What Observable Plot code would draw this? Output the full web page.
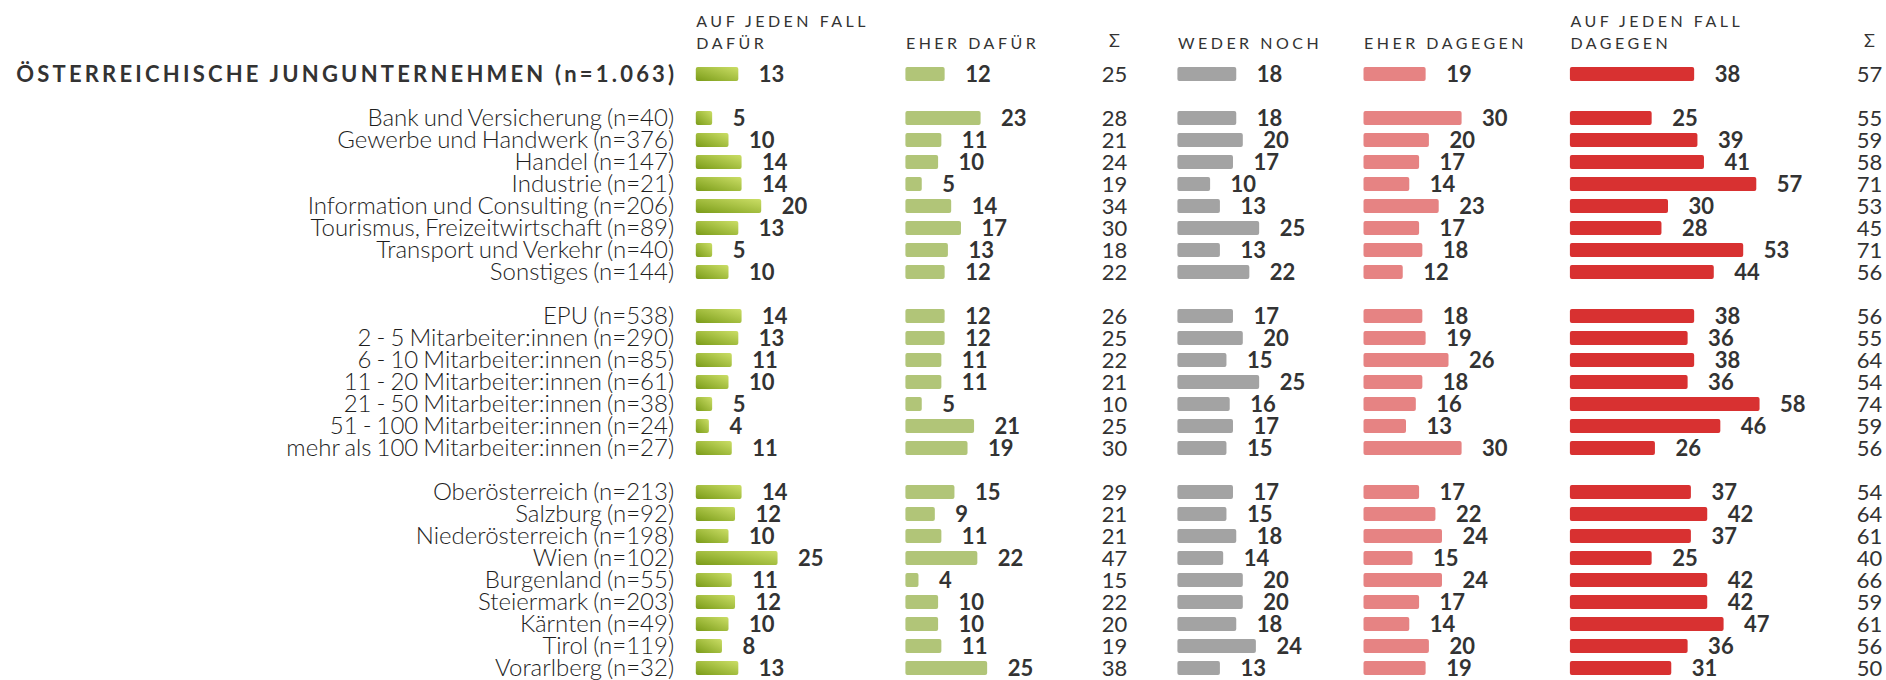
<!DOCTYPE html>
<html>
<head>
<meta charset="utf-8">
<script src="https://cdn.jsdelivr.net/npm/d3@7"></script>
<script src="https://cdn.jsdelivr.net/npm/@observablehq/plot@0.6"></script>
<style>
  html, body { margin: 0; padding: 0; background: #fff; overflow: hidden; }
</style>
</head>
<body>
<div id="chart"></div>
<script>
// ---------- data ----------
const totalLabel = "ÖSTERREICHISCHE JUNGUNTERNEHMEN (n=1.063)";
const sectors = [
  "Bank und Versicherung (n=40)",
  "Gewerbe und Handwerk (n=376)",
  "Handel (n=147)",
  "Industrie (n=21)",
  "Information und Consulting (n=206)",
  "Tourismus, Freizeitwirtschaft (n=89)",
  "Transport und Verkehr (n=40)",
  "Sonstiges (n=144)"
];
const sizes = [
  "EPU (n=538)",
  "2 - 5 Mitarbeiter:innen (n=290)",
  "6 - 10 Mitarbeiter:innen (n=85)",
  "11 - 20 Mitarbeiter:innen (n=61)",
  "21 - 50 Mitarbeiter:innen (n=38)",
  "51 - 100 Mitarbeiter:innen (n=24)",
  "mehr als 100 Mitarbeiter:innen (n=27)"
];
const regions = [
  "Oberösterreich (n=213)",
  "Salzburg (n=92)",
  "Niederösterreich (n=198)",
  "Wien (n=102)",
  "Burgenland (n=55)",
  "Steiermark (n=203)",
  "Kärnten (n=49)",
  "Tirol (n=119)",
  "Vorarlberg (n=32)"
];
const columnHeaders = ["AUF JEDEN FALL\nDAFÜR", "EHER DAFÜR", "WEDER NOCH", "EHER DAGEGEN", "AUF JEDEN FALL\nDAGEGEN"];
const sumHeader = "Σ";

// values in row order: total, sectors, sizes, regions
const aufJedenFallDafuer = [13, 5,10,14,14,20,13,5,10, 14,13,11,10,5,4,11, 14,12,10,25,11,12,10,8,13];
const eherDafuer         = [12, 23,11,10,5,14,17,13,12, 12,12,11,11,5,21,19, 15,9,11,22,4,10,10,11,25];
const summeDafuer        = [25, 28,21,24,19,34,30,18,22, 26,25,22,21,10,25,30, 29,21,21,47,15,22,20,19,38];
const wederNoch          = [18, 18,20,17,10,13,25,13,22, 17,20,15,25,16,17,15, 17,15,18,14,20,20,18,24,13];
const eherDagegen        = [19, 30,20,17,14,23,17,18,12, 18,19,26,18,16,13,30, 17,22,24,15,24,17,14,20,19];
const aufJedenFallDagegen= [38, 25,39,41,57,30,28,53,44, 38,36,38,36,58,46,26, 37,42,37,25,42,42,47,36,31];
const summeDagegen       = [57, 55,59,58,71,53,45,71,56, 56,55,64,54,74,59,56, 54,64,61,40,66,59,61,56,50];

// ---------- layout ----------
const W = 1886, H = 680;
const K = 3.27;                       // pixels per percentage point
const u = px => px / K;               // pixel layout -> x-scale units
const colStart = [695.8, 905.4, 1177.4, 1363.5, 1569.9].map(u);
const sumCenter = [1114, 1869].map(u);
const labelRight = u(673.6);
const titleSpacing = 3.2, headerSpacing = 3.5;
const rowStep = 22.1, firstRow = 72.2;
const colors = ["url(#gDafuer)", "#b1c578", "#a3a3a3", "#e68383", "#d83131"];

const rows = [totalLabel, ...sectors, ...sizes, ...regions];
const yDomain = [totalLabel, "gap1", ...sectors, "gap2", ...sizes, "gap3", ...regions];

const series = [aufJedenFallDafuer, eherDafuer, wederNoch, eherDagegen, aufJedenFallDagegen];
const barData = series.map((vals, c) =>
  vals.map((v, i) => ({row: rows[i], v, x1: colStart[c], x2: colStart[c] + v})));

const sumData = [summeDafuer, summeDagegen].flatMap((vals, s) =>
  vals.map((v, i) => ({row: rows[i], v, x: sumCenter[s]})));

const headerData = columnHeaders.map((t, c) => ({text: t, x: colStart[c]}));
const sumHeaderData = sumCenter.map(x => ({text: sumHeader, x}));

const textColor = "#333333";

const marks = [];
barData.forEach((d, c) => {
  marks.push(Plot.barX(d, {x1: "x1", x2: "x2", y: "row", fill: colors[c], rx: 2}));
  marks.push(Plot.text(d, {x: "x2", y: "row", text: "v", dx: 20, textAnchor: "start",
    fontSize: 22, fontWeight: 700, fill: textColor}));
});
marks.push(Plot.text(sumData, {x: "x", y: "row", text: "v", textAnchor: "middle",
  fontSize: 22, fill: textColor}));
marks.push(Plot.text([...sectors, ...sizes, ...regions], {x: labelRight, y: d => d, text: d => d,
  textAnchor: "end", fontSize: 24, fontWeight: 300, fill: "#1e1e1e"}));
marks.push(Plot.text([totalLabel], {x: labelRight + u(titleSpacing), y: d => d, text: d => d,
  textAnchor: "end", fontSize: 22, fontWeight: 700, fill: textColor}));
marks.push(Plot.text(headerData, {x: "x", text: "text", frameAnchor: "top", dy: 48.3,
  lineAnchor: "bottom", lineHeight: 1.35, textAnchor: "start", fontSize: 16,
  fill: textColor}));
marks.push(Plot.text(sumHeaderData, {x: "x", text: "text", frameAnchor: "top", dy: 46,
  lineAnchor: "bottom", textAnchor: "middle", fontSize: 18, fill: textColor}));

const svg = Plot.plot({
  width: W,
  height: H,
  marginLeft: 0, marginRight: 0, marginTop: 0, marginBottom: 0,
  style: {fontFamily: "Lato, sans-serif", background: "#fff"},
  x: {domain: [0, u(W)], range: [0, W], axis: null},
  y: {type: "band", domain: yDomain, range: [firstRow - rowStep / 2, firstRow + (yDomain.length - 0.5) * rowStep],
      paddingInner: 0.366, paddingOuter: 0.183, axis: null},
  marks
});

// gradient for first column
const defs = document.createElementNS("http://www.w3.org/2000/svg", "defs");
defs.innerHTML = '<linearGradient id="gDafuer" x1="0" y1="1" x2="1" y2="0">' +
  '<stop offset="0" stop-color="#7a9a19"/><stop offset="0.25" stop-color="#8fad2c"/>' +
  '<stop offset="1" stop-color="#cbde66"/></linearGradient>';
svg.prepend(defs);

// letter spacing for the uppercase title and column headers
const headerTexts = new Set(columnHeaders.map(h => h.replace("\n", "")));
svg.querySelectorAll("text").forEach(t => {
  const s = t.textContent;
  if (s === totalLabel) t.setAttribute("letter-spacing", titleSpacing);
  else if (headerTexts.has(s)) t.setAttribute("letter-spacing", headerSpacing);
  else if (!/^\d+$/.test(s) && s !== sumHeader) t.setAttribute("word-spacing", -1.5);
});

document.getElementById("chart").appendChild(svg);
</script>
</body>
</html>
